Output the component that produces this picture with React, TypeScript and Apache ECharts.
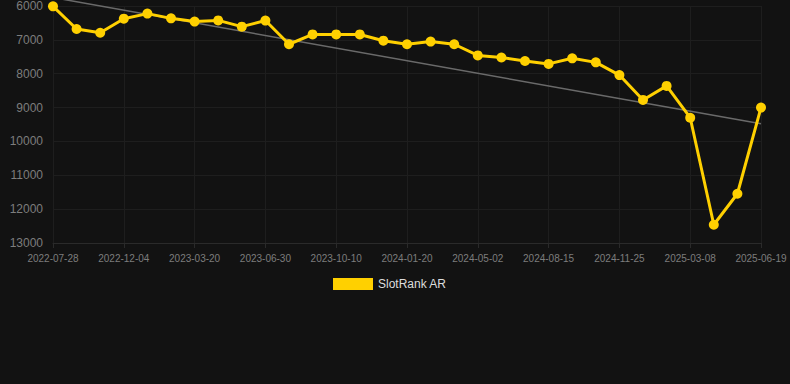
import React, { useEffect, useRef } from "react";
import * as echarts from "echarts";

const dates = [
  "2022-07-28", "2022-09-09", "2022-10-22", "2022-12-04", "2023-01-08", "2023-02-12",
  "2023-03-20", "2023-04-23", "2023-05-27", "2023-06-30", "2023-08-03", "2023-09-06",
  "2023-10-10", "2023-11-13", "2023-12-17", "2024-01-20", "2024-02-23", "2024-03-28",
  "2024-05-02", "2024-06-06", "2024-07-11", "2024-08-15", "2024-09-18", "2024-10-22",
  "2024-11-25", "2024-12-29", "2025-02-01", "2025-03-08", "2025-04-11", "2025-05-15",
  "2025-06-19",
];

const rankValues = [
  6010, 6680, 6790, 6375, 6225, 6365, 6460, 6425, 6610, 6430, 7130, 6840,
  6840, 6840, 7025, 7130, 7050, 7130, 7460, 7520, 7625, 7710, 7545, 7665,
  8040, 8775, 8360, 9300, 12460, 11545, 9000,
];

const trendStart = 5750;
const trendEnd = 9480;

const yTicks = { min: 6000, max: 13000, interval: 1000 };

export default function App() {
  const ref = useRef<HTMLDivElement>(null);
  useEffect(() => {
    if (!ref.current) return;
    const chart = echarts.init(ref.current, undefined, { renderer: "svg" });
    const trendData = dates.map((_, i) =>
      i === 0 ? trendStart : i === dates.length - 1 ? trendEnd : null
    );
    chart.setOption({
      animation: false,
      backgroundColor: "#121212",
      grid: { left: 53, right: 29, top: 6, bottom: 141, containLabel: false },
      legend: {
        data: ["SlotRank AR"],
        top: 273,
        left: 328,
        itemWidth: 40,
        itemHeight: 12,
        icon: "rect",
        textStyle: { color: "#dddddd", fontSize: 12, fontFamily: "Liberation Sans, Arial, sans-serif" },
      },
      xAxis: {
        type: "category",
        data: dates,
        boundaryGap: false,
        axisLine: { lineStyle: { color: "#2a2a2a" } },
        axisTick: { show: true, interval: 2, lineStyle: { color: "#2a2a2a" } },
        axisLabel: {
          interval: 2,
          color: "#7d7d7d",
          fontSize: 10,
          margin: 10,
          fontFamily: "Liberation Sans, Arial, sans-serif",
        },
        splitLine: { show: true, interval: 2, lineStyle: { color: "#1e1e1e" } },
      },
      yAxis: {
        type: "value",
        inverse: true,
        min: yTicks.min,
        max: yTicks.max,
        interval: yTicks.interval,
        axisLine: { show: false },
        axisTick: { show: false },
        axisLabel: {
          color: "#7d7d7d",
          fontSize: 12,
          margin: 10,
          formatter: (v: number) => String(v),
          fontFamily: "Liberation Sans, Arial, sans-serif",
        },
        splitLine: { lineStyle: { color: "#1e1e1e" } },
      },
      series: [
        {
          name: "Trend",
          type: "line",
          data: trendData,
          connectNulls: true,
          showSymbol: false,
          symbol: "none",
          clip: false,
          lineStyle: { color: "#6a6a6a", width: 1.5 },
          z: 1,
        },
        {
          name: "SlotRank AR",
          type: "line",
          data: rankValues,
          symbol: "circle",
          symbolSize: 10,
          itemStyle: { color: "#FFD000" },
          lineStyle: { color: "#FFD000", width: 3 },
          z: 2,
        },
      ],
    });
    return () => chart.dispose();
  }, []);
  return (
    <div
      ref={ref}
      style={{ position: "absolute", left: 0, top: 0, width: 790, height: 384, background: "#121212" }}
    />
  );
}
